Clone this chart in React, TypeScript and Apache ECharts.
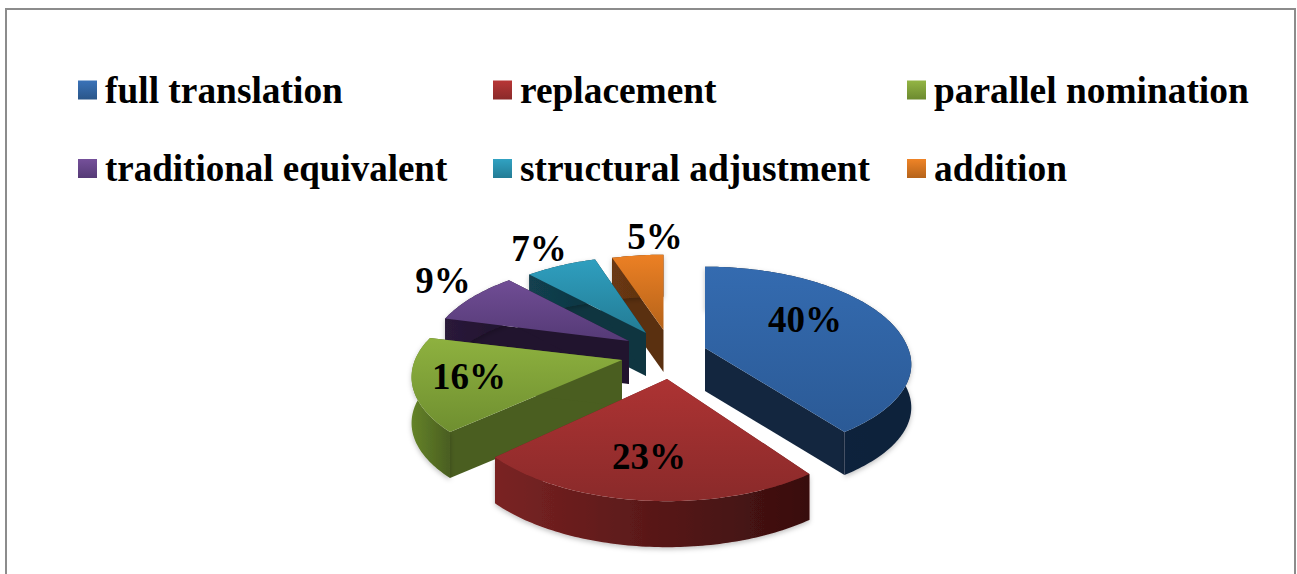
import React, { useEffect, useRef } from "react";
import * as echarts from "echarts";

const categories = ["full translation", "replacement", "parallel nomination", "traditional equivalent", "structural adjustment", "addition"];
const shares = [40, 23, 16, 9, 7, 5];

// Drawing layout of the exploded 3D pie (not data)
const apexX = [705, 667, 622, 629, 646, 663.5];
const apexY = [348, 379, 360, 341, 333, 330];
const scaleX = [0.99, 1.01, 1.01, 0.967, 0.94, 0.95];
const scaleY = [1, 1.13, 1.04, 1.06, 1.02, 1];
const backScale = [1.08, 1, 1, 1, 1, 1];
const depths = [43, 46, 46, 43, 43, 42];
const layerZ = [5, 6, 4, 3, 2, 1];
const labelX = [805, 649, 469, 443, 539, 655];
const labelY = [319, 456, 376, 280, 248, 236];
const legendX = [78, 493, 907, 78, 493, 907];
const legendY = [90, 90, 90, 168.5, 168.5, 168.5];
const legendFont = [37.4, 37.4, 37.4, 37, 37.4, 37.4];
const topColors = [
  ["#346bb0", "#2b5a96"],
  ["#ad3333", "#8a2a2a"],
  ["#8eb13f", "#6f8f30"],
  ["#704d95", "#553a76"],
  ["#2f9fbf", "#237c95"],
  ["#ec8024", "#b5631a"],
];
const legendColors = [
  ["#3a72b8", "#2a5689"],
  ["#b83636", "#8a2a2a"],
  ["#93b544", "#6c8a2f"],
  ["#75509a", "#553a76"],
  ["#31a2c2", "#237c95"],
  ["#ef8427", "#b5631a"],
];
const wallColors = ["#13263f", "#6a1f1f", "#4a5e20", "#21142e", "#0f3540", "#5a3010"];
const arcColors = [
  ["#13263f", "#0f213a"],
  ["#7a2323", "#380e0e"],
  ["#648329", "#4a5e20"],
  ["#2a1a3a", "#21142e"],
  ["#124050", "#0f3540"],
  ["#6a3812", "#5a3010"],
];

const RADIUS = 205;
const TILT = 0.433;
const PERSP = 0.179;

function grad(c: string[], horizontal: boolean) {
  return {
    type: "linear",
    x: 0,
    y: 0,
    x2: horizontal ? 1 : 0,
    y2: horizontal ? 0 : 1,
    colorStops: [
      { offset: 0, color: c[0] },
      { offset: 1, color: c[1] },
    ],
  };
}

function project(i: number, deg: number): number[] {
  const t = (deg * Math.PI) / 180;
  const c = Math.cos(t);
  const d = 1 + PERSP * c;
  const yScale = scaleY[i] * (c > 0 ? backScale[i] : 1);
  return [
    apexX[i] + (scaleX[i] * RADIUS * Math.sin(t)) / d,
    apexY[i] - (yScale * TILT * RADIUS * c) / d,
  ];
}

function renderSlice(i: number) {
  const total = shares.reduce((a, b) => a + b, 0);
  const before = shares.slice(0, i).reduce((a, b) => a + b, 0);
  const a0 = (before / total) * 360;
  const a1 = ((before + shares[i]) / total) * 360;
  const arc: number[][] = [];
  const steps = Math.max(12, Math.ceil(a1 - a0));
  for (let s = 0; s <= steps; s++) arc.push(project(i, a0 + ((a1 - a0) * s) / steps));
  const h = depths[i];
  const down = (p: number[]) => [p[0], p[1] + h];
  const apex = [apexX[i], apexY[i]];
  const first = arc[0];
  const last = arc[arc.length - 1];
  const wall = (pts: number[][]) => ({
    type: "polygon",
    shape: { points: pts },
    style: { fill: wallColors[i] },
  });
  return {
    type: "group",
    children: [
      wall([apex, first, down(first), down(apex)]),
      wall([apex, last, down(last), down(apex)]),
      {
        type: "polygon",
        shape: { points: [...arc, ...arc.slice().reverse().map(down)] },
        style: { fill: grad(arcColors[i], true), shadowBlur: 5, shadowColor: "rgba(0,0,0,0.25)", shadowOffsetY: 2 },
      },
      {
        type: "polygon",
        shape: { points: [apex, ...arc] },
        style: { fill: grad(topColors[i], false) },
      },
      {
        type: "text",
        style: {
          text: shares[i] + "%",
          x: labelX[i],
          y: labelY[i],
          align: "center",
          verticalAlign: "middle",
          fill: "#000",
          font: 'bold 37px "Liberation Serif"',
        },
      },
    ],
  };
}

export default function App() {
  const ref = useRef<HTMLDivElement>(null);
  useEffect(() => {
    document.body.style.margin = "0";
    const chart = echarts.init(ref.current!, undefined, { renderer: "svg" });
    chart.setOption({
      animation: false,
      backgroundColor: "#fff",
      legend: categories.map((name, i) => ({
        data: [name],
        left: legendX[i],
        top: legendY[i] - 18.5,
        padding: 0,
        itemWidth: 19,
        itemHeight: 19,
        icon: "rect",
        selectedMode: false,
        textStyle: {
          fontFamily: "Liberation Serif",
          fontWeight: "bold",
          fontSize: legendFont[i],
          color: "#000",
          padding: [0, 0, 0, 3],
        },
      })),
      graphic: [
        {
          type: "polyline",
          silent: true,
          shape: { points: [[6, 574], [6, 9], [1295, 9], [1295, 574]] },
          style: { stroke: "#8c8c8c", lineWidth: 2, fill: "none" },
        },
      ],
      series: categories.map((name, i) => ({
        type: "custom",
        name,
        coordinateSystem: "none",
        z: 2 + layerZ[i],
        silent: true,
        itemStyle: { color: grad(legendColors[i], false) },
        data: [{ name, value: shares[i] }],
        renderItem: () => renderSlice(i),
      })),
    });
    return () => chart.dispose();
  }, []);
  return <div ref={ref} style={{ width: 1297, height: 574, position: "absolute", left: 0, top: 0 }} />;
}
